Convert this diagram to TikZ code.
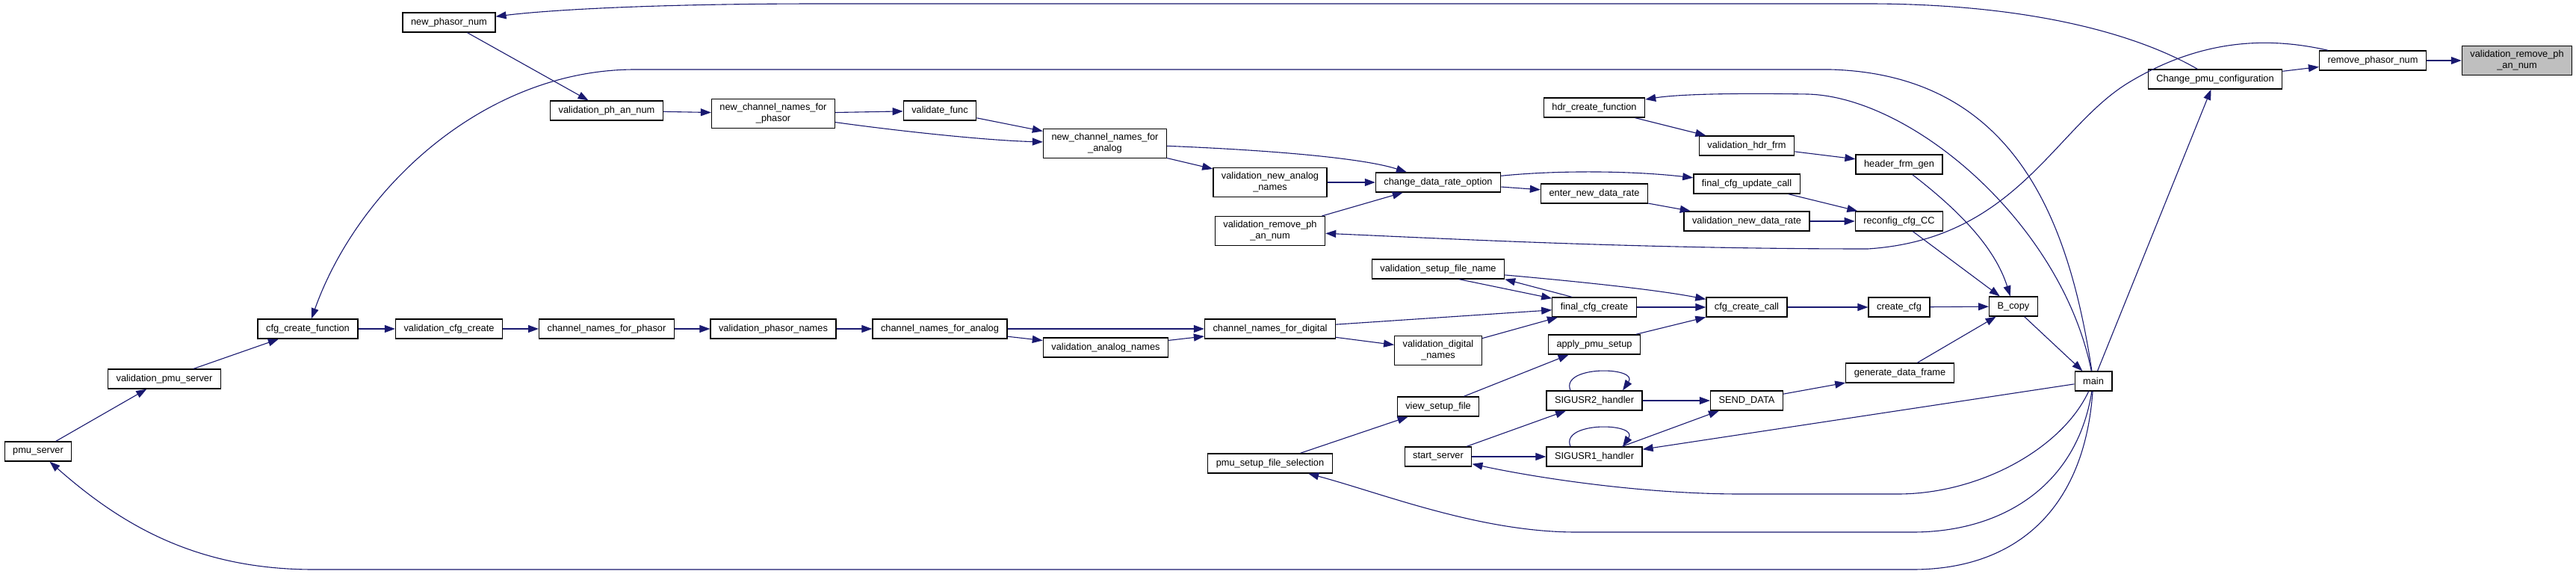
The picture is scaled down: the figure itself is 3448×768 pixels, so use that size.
\documentclass[tikz,border=0pt]{standalone}
\usepackage{fontspec}
\setmainfont{Liberation Sans}
\usetikzlibrary{arrows.meta}
\definecolor{edgeblue}{HTML}{191970}
\definecolor{focusgray}{HTML}{BFBFBF}
\begin{document}
\begin{tikzpicture}[x=1pt,y=-1pt]
\tikzstyle{f}=[draw,rectangle,fill=white,line width=1.3pt,minimum height=26pt,inner xsep=11pt,inner ysep=6pt,align=center,font=\fontsize{12.8}{15}\selectfont]
\tikzstyle{e}=[draw=edgeblue,line width=1.1pt,-{Triangle[length=14pt,width=10pt]}]
\fill[white] (0,0) rectangle (3448,768);
\useasboundingbox (0,0) rectangle (3448,768);
\node[f,fill=focusgray] (vrpan) at (3369,81) {validation\_remove\_ph\\\_an\_num};
\node[f] (rpn) at (3176,81) {remove\_phasor\_num};
\node[f] (cpc) at (2965,106) {Change\_pmu\_configuration};
\node[f] (main) at (2802,510) {main};
\node[f] (bcopy) at (2695,410) {B\_copy};
\node[f] (ccfg) at (2542,411) {create\_cfg};
\node[f] (gdf) at (2543,499) {generate\_data\_frame};
\node[f] (rcc) at (2542,296) {reconfig\_cfg\_CC};
\node[f] (hfg) at (2542,220) {header\_frm\_gen};
\node[f] (vhf) at (2338,195) {validation\_hdr\_frm};
\node[f] (fcuc) at (2338,246) {final\_cfg\_update\_call};
\node[f] (vndr) at (2338,296) {validation\_new\_data\_rate};
\node[f] (ccc) at (2338,411) {cfg\_create\_call};
\node[f] (sd) at (2338,536) {SEND\_DATA};
\node[f] (hcf) at (2134,144) {hdr\_create\_function};
\node[f] (endr) at (2134,259) {enter\_new\_data\_rate};
\node[f] (fcc) at (2134,411) {final\_cfg\_create};
\node[f] (aps) at (2134,461) {apply\_pmu\_setup};
\node[f] (s2h) at (2134,536) {SIGUSR2\_handler};
\node[f] (s1h) at (2134,611) {SIGUSR1\_handler};
\node[f] (cdro) at (1925,244) {change\_data\_rate\_option};
\node[f] (vsfn) at (1925,360) {validation\_setup\_file\_name};
\node[f] (vdn) at (1925,469) {validation\_digital\\\_names};
\node[f] (vsf) at (1925,544) {view\_setup\_file};
\node[f] (ss) at (1925,611) {start\_server};
\node[f] (vnan) at (1700,244) {validation\_new\_analog\\\_names};
\node[f] (vrpan2) at (1700,309) {validation\_remove\_ph\\\_an\_num};
\node[f] (cnfd) at (1700,440) {channel\_names\_for\_digital};
\node[f] (psfs) at (1700,620) {pmu\_setup\_file\_selection};
\node[f] (ncnfa) at (1479,192) {new\_channel\_names\_for\\\_analog};
\node[f] (van) at (1480,465) {validation\_analog\_names};
\node[f] (vf) at (1258,148) {validate\_func};
\node[f] (cnfa) at (1258,440) {channel\_names\_for\_analog};
\node[f] (ncnfp) at (1035,152) {new\_channel\_names\_for\\\_phasor};
\node[f] (vpn) at (1035,440) {validation\_phasor\_names};
\node[f] (vpan) at (812,148) {validation\_ph\_an\_num};
\node[f] (cnfp) at (812,440) {channel\_names\_for\_phasor};
\node[f] (npn) at (601,30) {new\_phasor\_num};
\node[f] (vcc) at (601,440) {validation\_cfg\_create};
\node[f] (ccf) at (412,440) {cfg\_create\_function};
\node[f] (vps) at (220,507) {validation\_pmu\_server};
\node[f] (ps) at (51,604) {pmu\_server};
\draw[e] (rpn) -- (vrpan);
\draw[e] (cpc) -- (rpn);
\draw[e] (main) -- (cpc);
\draw[e] (bcopy) -- (main);
\draw[e] (rcc) -- (bcopy);
\draw[e] (hfg) .. controls (2620,280) and (2670,330) .. (bcopy);
\draw[e] (ccfg) -- (bcopy);
\draw[e] (gdf) -- (bcopy);
\draw[e] (ccc) -- (ccfg);
\draw[e] (fcc) -- (ccc);
\draw[e] (aps) -- (ccc);
\draw[e] (vsfn) .. controls (2150,380) and (2230,390) .. (ccc);
\draw[e] ([xshift=28pt]vsfn.south) -- (fcc);
\draw[e] ([xshift=-30pt]fcc.north) -- (vsfn.south east);
\draw[e] (cnfd) -- (fcc);
\draw[e] (vdn) -- (fcc);
\draw[e] (cnfd) -- (vdn);
\draw[e] (cnfa) -- (cnfd);
\draw[e] (cnfa) -- (van);
\draw[e] (van) -- (cnfd);
\draw[e] (vpn) -- (cnfa);
\draw[e] (cnfp) -- (vpn);
\draw[e] (vcc) -- (cnfp);
\draw[e] (ccf) -- (vcc);
\draw[e] (vps) -- (ccf);
\draw[e] (ps) -- (vps);
\draw[e] (hcf) -- (vhf);
\draw[e] (vhf) -- (hfg);
\draw[e] (cdro) .. controls (2080,228) and (2180,228) .. (fcuc);
\draw[e] (cdro) -- (endr);
\draw[e] (endr) -- (vndr);
\draw[e] (vndr) -- (rcc);
\draw[e] (fcuc) -- (rcc);
\draw[e] (ncnfa) .. controls (1680,200) and (1820,210) .. (cdro);
\draw[e] (vnan) -- (cdro);
\draw[e] (vrpan2) -- (cdro);
\draw[e] (ncnfa) -- (vnan);
\draw[e] (vf) -- (ncnfa);
\draw[e] (ncnfp) -- (vf);
\draw[e] (ncnfp) .. controls (1200,175) and (1320,188) .. (ncnfa);
\draw[e] (vpan) -- (ncnfp);
\draw[e] (npn) -- (vpan);
\draw[e] (s2h) -- (sd);
\draw[e] (s1h) -- (sd);
\draw[e] (sd) -- (gdf);
\draw[e] (ss) -- (s2h);
\draw[e] (ss) -- (s1h);
\draw[e] (psfs) -- (vsf);
\draw[e] (vsf) -- (aps);
\draw[e] ([xshift=-32pt]s2h.north) .. controls +(-14,-34) and +(22,-32) .. ([xshift=38pt]s2h.north);
\draw[e] ([xshift=-32pt]s1h.north) .. controls +(-14,-34) and +(22,-32) .. ([xshift=38pt]s1h.north);
\draw[e] (main) -- (s1h);
\draw[e] (cpc) .. controls (2850,40) and (2700,5) .. (2500,5) -- (1100,5) .. controls (850,5) and (720,15) .. (npn);
\draw[e] (main) .. controls (2770,300) and (2700,100) .. (2450,93) -- (850,93) .. controls (650,93) and (480,250) .. (ccf);
\draw[e] (main) .. controls (2760,300) and (2560,130) .. (2420,126) .. controls (2300,124) and (2240,127) .. (hcf);
\draw[e] (rpn) .. controls (3040,50) and (2950,50) .. (2850,110) .. controls (2750,170) and (2700,320) .. (2500,333) .. controls (2200,333) and (1950,320) .. (vrpan2);
\draw[e] (main) .. controls (2760,600) and (2650,661) .. (2540,661) -- (2330,661) .. controls (2200,661) and (2060,640) .. (ss);
\draw[e] (main) .. controls (2780,650) and (2680,712) .. (2560,712) -- (2110,712) .. controls (1980,712) and (1850,660) .. (psfs);
\draw[e] (main) .. controls (2790,680) and (2700,762) .. (2560,762) -- (420,762) .. controls (260,762) and (160,700) .. (ps);
\end{tikzpicture}
\end{document}
